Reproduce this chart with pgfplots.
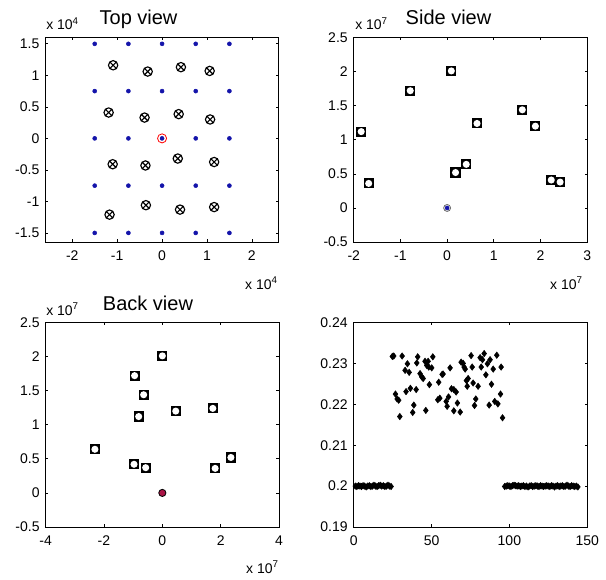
\documentclass[border=0pt]{standalone}
\usepackage{fontspec}
\setmainfont{Liberation Sans}
\usepackage{pgfplots}
\pgfplotsset{compat=1.18}

\definecolor{navy}{RGB}{20,20,170}
\definecolor{maroon}{RGB}{170,20,70}

% black square with a white disc in it
\pgfdeclareplotmark{sqo}{%
  \pgfpathrectangle{\pgfpoint{-\pgfplotmarksize}{-\pgfplotmarksize}}{\pgfpoint{2\pgfplotmarksize}{2\pgfplotmarksize}}%
  \pgfsetfillcolor{black}\pgfusepath{fill}%
  \pgfpathcircle{\pgfpointorigin}{0.7\pgfplotmarksize}%
  \pgfsetfillcolor{white}\pgfusepath{fill}}

\pgfplotsset{
  matfig/.style={
    scale only axis, width=175.1pt, height=153.4pt,
    anchor=north west,
    tick align=inside, major tick length=2pt,
    axis line style={black, line width=0.5pt},
    tick style={black, line width=0.5pt},
    ticklabel style={font=\fontsize{10.5}{12}\selectfont},
    xticklabel shift=3.2pt, yticklabel shift=1pt,
    /pgf/number format/assume math mode=true,
    scaled ticks=false, clip=false,
  },
}

\begin{document}
\begin{tikzpicture}
\useasboundingbox (0,0) rectangle (454.5pt,434.25pt);

% ---- top view ----
\begin{axis}[matfig, at={(34pt,406.1pt)},
  xmin=-2.6, xmax=2.6, ymin=-1.645, ymax=1.6,
  xtick={-2,-1,0,1,2}, ytick={-1.5,-1,-0.5,0,0.5,1,1.5}]
\addplot[only marks, mark=*, mark size=1.5pt, navy] coordinates {
  (-1.5,1.5) (-0.75,1.5) (0,1.5) (0.75,1.5) (1.5,1.5)
  (-1.5,0.75) (-0.75,0.75) (0,0.75) (0.75,0.75) (1.5,0.75)
  (-1.5,0) (-0.75,0) (0,0) (0.75,0) (1.5,0)
  (-1.5,-0.75) (-0.75,-0.75) (0,-0.75) (0.75,-0.75) (1.5,-0.75)
  (-1.5,-1.5) (-0.75,-1.5) (0,-1.5) (0.75,-1.5) (1.5,-1.5)
};
\addplot[only marks, mark=otimes, mark size=3.5pt, black, mark options={line width=0.85pt}] coordinates {
  (-1.09,1.16) (-0.32,1.06) (0.42,1.13) (1.06,1.07)
  (-1.19,0.41) (-0.39,0.33) (0.37,0.385) (1.07,0.30)
  (-1.10,-0.41) (-0.37,-0.43) (0.35,-0.32) (1.16,-0.375)
  (-1.17,-1.21) (-0.36,-1.06) (0.40,-1.13) (1.16,-1.09)
};
\addplot[only marks, mark=o, mark size=3.4pt, red, mark options={line width=0.6pt}] coordinates {(0,0)};
\end{axis}

% ---- side view ----
\begin{axis}[matfig, at={(265.3pt,406.1pt)},
  xmin=-2, xmax=3, ymin=-0.5, ymax=2.5,
  xtick={-2,-1,0,1,2,3}, ytick={-0.5,0,0.5,1,1.5,2,2.5}]
\addplot[only marks, mark=sqo, mark size=3.8pt] coordinates {
  (-1.84,1.12) (-1.68,0.36) (-0.79,1.72) (0.09,2.01) (0.18,0.52)
  (0.41,0.64) (0.64,1.24) (1.61,1.44) (1.89,1.20) (2.23,0.41) (2.42,0.38)
};
\addplot[only marks, mark=o, mark size=2.6pt, black!60, mark options={line width=0.6pt}] coordinates {(0,0)};
\addplot[only marks, mark=*, mark size=1.5pt, navy] coordinates {(0,0)};
\end{axis}

% ---- back view ----
\begin{axis}[matfig, at={(34.2pt,192.4pt)},
  xmin=-4, xmax=4, ymin=-0.5, ymax=2.5,
  xtick={-4,-2,0,2,4}, ytick={-0.5,0,0.5,1,1.5,2,2.5}]
\addplot[only marks, mark=sqo, mark size=3.8pt] coordinates {
  (0,2.01) (-0.95,1.72) (-0.64,1.44) (-0.81,1.12) (0.46,1.20) (1.73,1.24)
  (-2.31,0.64) (-0.97,0.42) (-0.57,0.37) (1.81,0.36) (2.35,0.52)
};
\addplot[only marks, mark=*, mark size=2.7pt, draw=black, fill=maroon, mark options={line width=0.6pt}] coordinates {(0,0)};
\end{axis}

% ---- time series ----
\begin{axis}[matfig, at={(265.3pt,192.4pt)},
  xmin=0, xmax=150, ymin=0.19, ymax=0.24,
  xtick={0,50,100,150}, ytick={0.19,0.2,0.21,0.22,0.23,0.24}]
\addplot[only marks, mark=diamond*, mark size=2.4pt, black] coordinates {
  (1,0.2000) (2,0.1999) (3,0.2001) (4,0.2000) (5,0.1999) (6,0.2001)
  (7,0.2000) (8,0.1998) (9,0.2000) (10,0.2001) (11,0.1999) (12,0.2000)
  (13,0.2002) (14,0.2000) (15,0.1999) (16,0.2001) (17,0.2002) (18,0.2000)
  (19,0.2001) (20,0.1999) (21,0.2000) (22,0.2002) (23,0.2000) (24,0.1999)
  (24.8,0.2317) (25.7,0.2318) (26.8,0.2225) (27.9,0.2213) (28.9,0.2210)
  (29.6,0.2170) (31.1,0.2318) (33.0,0.2283) (33.6,0.2231) (34.5,0.2299)
  (35.6,0.2278) (36.4,0.2239) (37.9,0.2180) (38.6,0.2198) (40.1,0.2236)
  (40.5,0.2301) (41.1,0.2316) (42.6,0.2275) (43.7,0.2267) (44.6,0.2263)
  (45.8,0.2305) (46.3,0.2185) (46.9,0.2295) (47.8,0.2305) (48.2,0.2291)
  (48.6,0.2248) (50.1,0.2289) (50.8,0.2316) (54.0,0.2211) (54.6,0.2254)
  (55.3,0.2215) (56.8,0.2273) (57.4,0.2274) (59.4,0.2207) (60.0,0.2195)
  (60.9,0.2218) (61.9,0.2289) (62.8,0.2238) (64.3,0.2236) (64.3,0.2184)
  (65.8,0.2230) (66.6,0.2203) (68.4,0.2181) (69.0,0.2303) (70.3,0.2300)
  (70.9,0.2291) (71.6,0.2286) (72.4,0.2258) (72.9,0.2244) (73.5,0.2263)
  (75.4,0.2319) (76.1,0.2291) (76.7,0.2252) (77.6,0.2197) (78.4,0.2213)
  (79.9,0.2244) (81.2,0.2314) (81.9,0.2291) (82.7,0.2309) (83.8,0.2324)
  (84.9,0.2272) (85.9,0.2299) (87.0,0.2198) (87.6,0.2309) (88.5,0.2249)
  (89.6,0.2286) (90.6,0.2207) (91.9,0.2320) (92.6,0.2201) (94.3,0.2225)
  (94.7,0.2291) (95.6,0.2167)
  (97,0.1999) (98,0.2000) (99,0.2001) (100,0.2000) (101,0.1999) (102,0.2001)
  (103,0.2002) (104,0.2001) (105,0.2000) (106,0.2001) (107,0.1999) (108,0.2000)
  (109,0.2001) (110,0.1999) (111,0.2000) (112,0.1998) (113,0.2000) (114,0.2001)
  (115,0.1999) (116,0.2000) (117,0.2001) (118,0.2000) (119,0.1999) (120,0.2001)
  (121,0.2000) (122,0.1999) (123,0.2000) (124,0.2001) (125,0.2000) (126,0.1999)
  (127,0.2001) (128,0.2000) (129,0.1998) (130,0.2000) (131,0.2001) (132,0.1999)
  (133,0.2000) (134,0.2001) (135,0.1999) (136,0.2000) (137,0.2002) (138,0.2000)
  (139,0.1999) (140,0.2001) (141,0.2000) (142,0.1999) (143,0.2000) (144,0.1998)
};
\end{axis}

% titles and MATLAB-style exponent labels
\node[anchor=base, font=\fontsize{15}{17}\selectfont] at (103.9pt,415.5pt) {Top view};
\node[anchor=base, font=\fontsize{15}{17}\selectfont] at (336.4pt,415.5pt) {Side view};
\node[anchor=base, font=\fontsize{15}{17}\selectfont] at (111pt,201.75pt) {Back view};
\begin{scope}[every node/.style={font=\fontsize{10.5}{12}\selectfont, inner sep=0pt}]
\node[anchor=base west] at (34.5pt,411.75pt) {x 10\textsuperscript{4}};
\node[anchor=base east] at (208.5pt,217.5pt) {x 10\textsuperscript{4}};
\node[anchor=base west] at (266.25pt,411.75pt) {x 10\textsuperscript{7}};
\node[anchor=base east] at (437.25pt,217.5pt) {x 10\textsuperscript{7}};
\node[anchor=base west] at (34.5pt,198pt) {x 10\textsuperscript{7}};
\node[anchor=base east] at (209.25pt,4.5pt) {x 10\textsuperscript{7}};
\end{scope}
\end{tikzpicture}
\end{document}
